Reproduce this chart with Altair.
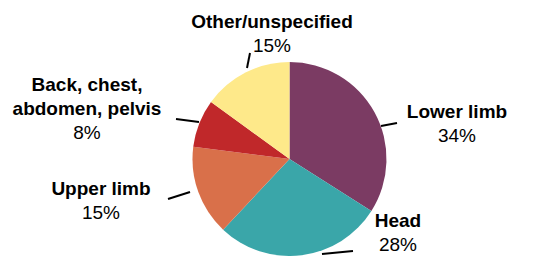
import altair as alt
import pandas as pd

# ---- data ----
categories = ["Lower limb", "Head", "Upper limb", "Back, chest, abdomen, pelvis", "Other/unspecified"]
shares = [34, 28, 15, 8, 15]
colors = ["#7b3b63", "#3aa6a9", "#d9704a", "#c0282a", "#fee98a"]

# ---- label layout (chart pixel space) ----
label_lines = [["Lower limb"], ["Head"], ["Upper limb"], ["Back, chest,", "abdomen, pelvis"], ["Other/unspecified"]]
label_x = [449, 390, 93, 79, 264]
label_first_baseline = [109.5, 219, 187, 83, 19.5]
line_gap = 24
leader_x1 = [373, 314, 160, 168, 239]
leader_y1 = [118, 246, 191, 111, 60]
leader_x2 = [389, 345, 182, 191, 242]
leader_y2 = [115, 243, 184, 114, 45]

W, H = 529, 248
CX, CY, R = 281.5, 151, 97
FONT = "Liberation Sans"

pie_df = pd.DataFrame({"cat": categories, "share": shares, "idx": list(range(len(categories)))})

name_rows, pct_rows = [], []
for i, lines in enumerate(label_lines):
    for j, t in enumerate(lines):
        name_rows.append({"t": t, "x": label_x[i], "y": label_first_baseline[i] + j * line_gap})
    pct_rows.append({"t": f"{shares[i]}%", "x": label_x[i],
                     "y": label_first_baseline[i] + len(lines) * line_gap})
name_df = pd.DataFrame(name_rows)
pct_df = pd.DataFrame(pct_rows)
lead_df = pd.DataFrame({"x": leader_x1, "y": leader_y1, "x2": leader_x2, "y2": leader_y2})

xs = alt.Scale(domain=[0, W], range=[0, W], zero=False, nice=False)
ys = alt.Scale(domain=[0, H], range=[0, H], zero=False, nice=False)

pie = alt.Chart(pie_df).mark_arc(radius=R, stroke=None).encode(
    theta=alt.Theta("share:Q", stack=True),
    color=alt.Color("cat:N", scale=alt.Scale(domain=categories, range=colors), legend=None),
    order=alt.Order("idx:Q"),
    x=alt.value(CX),
    y=alt.value(CY),
)

names = alt.Chart(name_df).mark_text(font=FONT, fontSize=19, fontWeight="bold",
                                     baseline="alphabetic", align="center", color="#000000").encode(
    x=alt.X("x:Q", scale=xs, axis=None),
    y=alt.Y("y:Q", scale=ys, axis=None),
    text="t:N",
)

pcts = alt.Chart(pct_df).mark_text(font=FONT, fontSize=19, fontWeight="normal",
                                   baseline="alphabetic", align="center", color="#000000").encode(
    x=alt.X("x:Q", scale=xs, axis=None),
    y=alt.Y("y:Q", scale=ys, axis=None),
    text="t:N",
)

leaders = alt.Chart(lead_df).mark_rule(color="#000000", strokeWidth=2).encode(
    x=alt.X("x:Q", scale=xs, axis=None),
    y=alt.Y("y:Q", scale=ys, axis=None),
    x2="x2:Q",
    y2="y2:Q",
)

chart = alt.layer(pie, leaders, names, pcts).properties(
    width=W, height=H, padding=0, autosize=alt.AutoSizeParams(type="none")
).resolve_scale(color="independent").configure_view(stroke=None)

chart.save("out.html", embed_options={"renderer": "svg", "actions": False})
